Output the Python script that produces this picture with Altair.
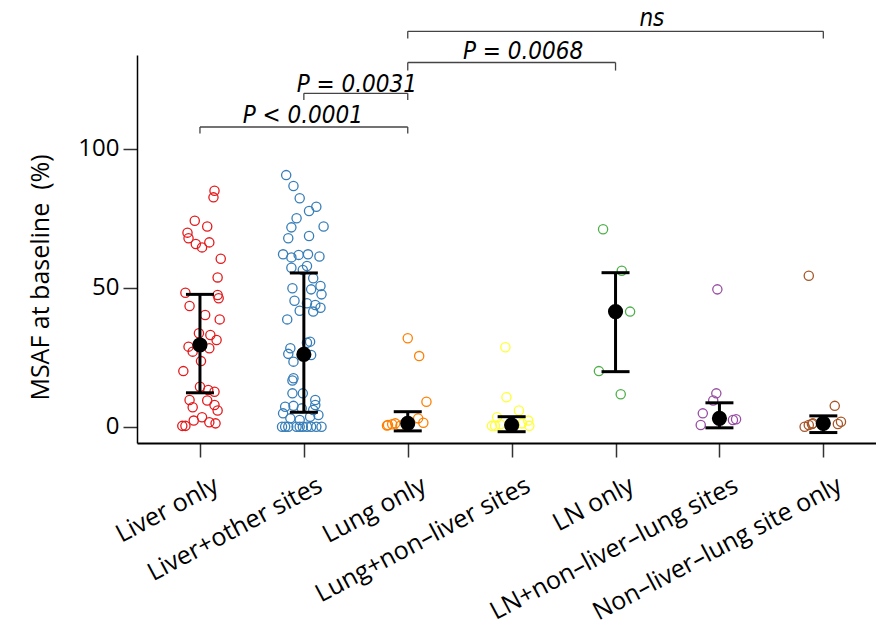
import json
import altair as alt
import pandas as pd

categories = ["Liver only", "Liver+other sites", "Lung only", "Lung+non\u2013liver sites",
              "LN only", "LN+non\u2013liver\u2013lung sites", "Non\u2013liver\u2013lung site only"]
colors = ["#e41a1c", "#377eb8", "#ff7f00", "#ffff33", "#4daf4a", "#984ea3", "#a65628"]

# per-group values (%) and the horizontal jitter (in category units)
liver_only = [85.0, 82.6, 74.2, 72.1, 69.9, 67.9, 66.4, 65.8, 64.6, 60.5, 53.8, 48.3, 47.5, 46.3,
              43.5, 40.3, 38.7, 33.7, 33.1, 31.3, 28.9, 27.1, 28.3, 23.7, 20.1, 14.5, 13.3, 12.7,
              9.7, 9.5, 7.1, 7.9, 5.9, 3.5, 2.3, 1.7, 1.3, 0.4, 0.4]
liver_only_jit = [0.14, 0.13, -0.05, 0.07, -0.12, -0.11, 0.09, -0.04, 0.02, 0.20, 0.17, -0.14, 0.17,
                  0.18, -0.10, 0.05, 0.19, -0.01, 0.10, 0.16, -0.11, -0.07, 0.09, 0.01, -0.16, 0.0,
                  0.08, 0.14, -0.10, 0.07, -0.07, 0.14, 0.17, 0.02, -0.06, 0.09, 0.15, -0.17, -0.14]
liver_other = [90.6, 86.7, 82.3, 79.2, 77.7, 75.1, 72.1, 71.8, 68.7, 67.9, 62.1, 61.0, 61.9, 62.1,
               61.3, 57.3, 57.9, 56.5, 53.5, 50.7, 49.9, 49.5, 47.7, 45.4, 44.5, 43.9, 42.9, 41.5,
               41.8, 38.7, 30.7, 30.3, 28.3, 26.3, 23.5, 25.9, 17.5, 16.7, 12.1, 12.1, 7.3, 7.6,
               6.7, 9.7, 7.9, 6.1, 4.9, 3.1, 2.5, 3.7, 4.3, 0.1, 0.1, 0.1, 0.1, 0.1, 0.1, 0.1,
               0.1, 0.1, 0.1]
liver_other_jit = [-0.17, -0.10, -0.04, 0.12, 0.05, -0.07, 0.19, -0.12, 0.05, -0.15, -0.20, -0.12,
                   -0.05, 0.04, 0.15, -0.12, 0.03, -0.01, 0.09, 0.16, -0.11, 0.07, 0.17, -0.09,
                   0.03, 0.11, 0.16, 0.09, -0.04, -0.16, 0.06, 0.03, -0.13, -0.15, -0.10, 0.07,
                   -0.10, -0.11, -0.11, -0.01, -0.18, -0.10, -0.02, 0.11, 0.11, 0.09, -0.20,
                   -0.13, -0.04, 0.06, 0.14, -0.21, -0.18, -0.15, -0.07, -0.04, -0.01, 0.03,
                   0.07, 0.12, 0.17]
lung_only = [31.9, 25.5, 9.1, 1.5, 3.1, 0.5, 0.7, 1.0, 1.3, 0.5]
lung_only_jit = [0.0, 0.11, 0.18, 0.15, 0.10, -0.20, -0.19, -0.15, -0.12, -0.07]
lung_nonliver = [28.7, 10.7, 5.9, 3.5, 0.4, 0.4, 2.3, 0.4, 1.3, 1.0, 0.8]
lung_nonliver_jit = [-0.06, -0.05, 0.07, -0.14, -0.19, -0.16, 0.16, 0.17, 0.10, -0.11, 0.03]
ln_only = [71.1, 56.2, 41.5, 20.1, 11.8]
ln_only_jit = [-0.12, 0.06, 0.14, -0.16, 0.05]
ln_nonll = [49.5, 12.1, 9.5, 4.9, 0.7, 2.5, 2.8]
ln_nonll_jit = [-0.02, -0.03, -0.06, -0.16, -0.18, 0.13, 0.16]
nonll_only = [54.4, 7.6, 1.9, 1.1, 0.1, 0.7, 1.1, 1.3]
nonll_only_jit = [-0.14, 0.11, 0.17, 0.14, -0.18, -0.14, -0.11, -0.10]

group_values = [liver_only, liver_other, lung_only, lung_nonliver, ln_only, ln_nonll, nonll_only]
group_jitter = [liver_only_jit, liver_other_jit, lung_only_jit, lung_nonliver_jit,
                ln_only_jit, ln_nonll_jit, nonll_only_jit]

# summary (centre dot and error bar) per group
centre = [29.5, 26.1, 1.3, 0.7, 41.5, 3.1, 1.3]
lower = [12.3, 5.3, -1.4, -1.7, 19.9, -0.3, -2.0]
upper = [47.7, 55.4, 5.5, 3.7, 55.5, 8.7, 4.0]

# significance brackets
br_left = [0, 1, 2, 2]
br_right = [2, 2, 4, 6]
br_y = [107.9, 120.0, 131.1, 142.3]
br_drop = [2.3, 2.4, 2.9, 2.6]
br_label = ["P < 0.0001", "P = 0.0031", "P = 0.0068", "ns"]
br_label_x = [0.99, 1.51, 3.11, 4.35]
br_label_y = [109.4, 120.6, 132.2, 144.2]

rows = []
for gi, (vals, jit) in enumerate(zip(group_values, group_jitter)):
    for v, j in zip(vals, jit):
        rows.append({"grp": categories[gi], "x": gi + j, "v": v})
pts = pd.DataFrame(rows)

summ = pd.DataFrame({"grp": categories, "x": list(range(7)), "m": centre, "lo": lower, "hi": upper})

br_rows = []
for l, r, y, d in zip(br_left, br_right, br_y, br_drop):
    br_rows.append({"x": l, "x2": r, "y": y, "y2": y})
    br_rows.append({"x": l, "x2": l, "y": y, "y2": y - d})
    br_rows.append({"x": r, "x2": r, "y": y, "y2": y - d})
brk = pd.DataFrame(br_rows)
brt = pd.DataFrame({"x": br_label_x, "y": br_label_y, "t": br_label})

FONT = "Open Sans"
xscale = alt.Scale(domain=[-0.606, 6.507], nice=False, zero=False)
yscale = alt.Scale(domain=[-5.76, 133.8], nice=False, zero=False)
label_js = json.dumps(categories)

xaxis = alt.Axis(values=list(range(7)), labelExpr=f"{label_js}[datum.value]", title=None,
                 grid=False, tickSize=14, tickWidth=1.5, tickColor="#333", domainColor="#000",
                 domainWidth=2, labelAngle=332, labelAlign="right", labelBaseline="middle",
                 labelFont=FONT, labelFontSize=25, labelColor="#000", labelPadding=26,
                 labelOffset=16, labelOverlap=False, labelBound=False, labelFlush=False,
                 labelLimit=0)
yaxis = alt.Axis(values=[0, 50, 100], title="MSAF at baseline \u00a0(%)", grid=False, tickSize=14,
                 tickWidth=1.5, tickColor="#333", domainColor="#000", domainWidth=1.5,
                 labelFont=FONT, labelFontSize=24, labelColor="#000", labelPadding=4,
                 titleFont=FONT, titleFontSize=25, titleFontWeight="normal", titleColor="#000",
                 titleX=-97, titleY=222, titleAngle=270, titleAlign="center",
                 titleBaseline="middle", titleAnchor="start")

points = alt.Chart(pts).mark_point(shape="circle", filled=False, size=85, strokeWidth=1.3,
                                   opacity=1).encode(
    x=alt.X("x:Q", scale=xscale, axis=xaxis),
    y=alt.Y("v:Q", scale=yscale, axis=yaxis),
    color=alt.Color("grp:N", scale=alt.Scale(domain=categories, range=colors), legend=None),
)

bars = alt.Chart(summ).mark_rule(color="#000", strokeWidth=3).encode(
    x="x:Q", y="lo:Q", y2="hi:Q")
caps_hi = alt.Chart(summ).mark_tick(color="#000", orient="horizontal", size=28, thickness=3,
                                    opacity=1).encode(x="x:Q", y="hi:Q")
caps_lo = alt.Chart(summ).mark_tick(color="#000", orient="horizontal", size=28, thickness=3,
                                    opacity=1).encode(x="x:Q", y="lo:Q")
dots = alt.Chart(summ).mark_point(shape="circle", filled=True, color="#000", size=230,
                                  opacity=1).encode(x="x:Q", y="m:Q")

brackets = alt.Chart(brk).mark_rule(color="#444", strokeWidth=1.3).encode(
    x="x:Q", x2="x2:Q", y="y:Q", y2="y2:Q")
btext = alt.Chart(brt).mark_text(font="DejaVu Sans Condensed, Roboto, sans-serif",
                                 fontStyle="italic", fontSize=24, color="#000",
                                 baseline="alphabetic", align="center").encode(
    x="x:Q", y="y:Q", text="t:N")

chart = alt.layer(points, bars, caps_hi, caps_lo, dots, brackets, btext).properties(
    width=739, height=388,
    padding={"left": 137, "top": 55, "right": 0, "bottom": 183},
    autosize=alt.AutoSizeParams(type="none"),
    background="white",
).configure_view(stroke=None)

chart.save("out.html", embed_options={"renderer": "svg", "actions": False})
